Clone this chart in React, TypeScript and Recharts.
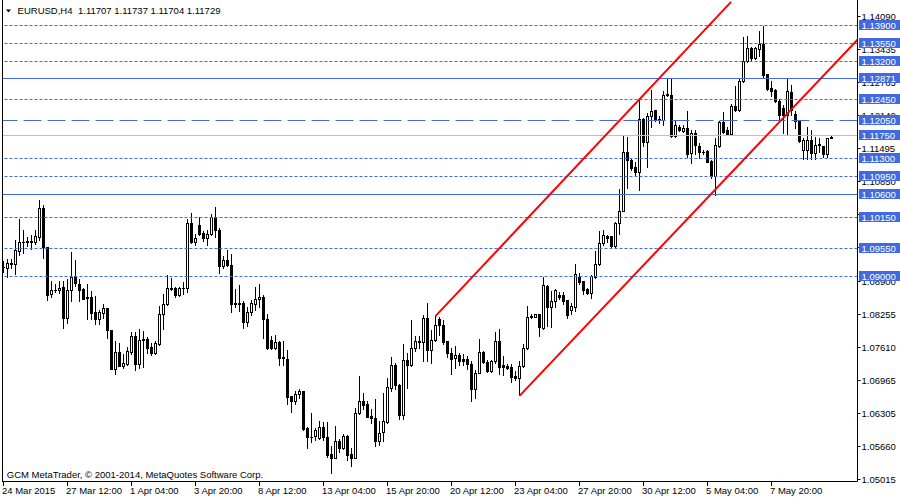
import React from 'react';
import { ComposedChart, Bar, XAxis, YAxis, ReferenceLine } from 'recharts';

const FONT = "'Liberation Sans', Arial, sans-serif";
const BLUE = '#4169E1';

// bar index of each date label on the time axis, and the labels themselves
const dateTickBars = [0, 16, 32, 48, 64, 80, 96, 112, 128, 144, 160, 176, 192];
const dateLabels = [
  '24 Mar 2015', '27 Mar 12:00', '1 Apr 04:00', '3 Apr 20:00', '8 Apr 12:00',
  '13 Apr 04:00', '15 Apr 20:00', '20 Apr 12:00', '23 Apr 04:00', '27 Apr 20:00',
  '30 Apr 12:00', '5 May 04:00', '7 May 20:00',
];

const open = [
  1.0919, 1.0916, 1.0926, 1.0924, 1.0950, 1.0967, 1.0968, 1.0970, 1.0967, 1.0977,
  1.1034, 1.0957, 1.0865, 1.0873, 1.0874, 1.0879, 1.0818, 1.0873, 1.0900, 1.0885,
  1.0875, 1.0860, 1.0860, 1.0831, 1.0817, 1.0829, 1.0837, 1.0794, 1.0718, 1.0752,
  1.0725, 1.0728, 1.0751, 1.0783, 1.0728, 1.0775, 1.0778, 1.0761, 1.0750, 1.0768,
  1.0826, 1.0845, 1.0877, 1.0877, 1.0864, 1.0877, 1.0877, 1.1004, 1.0967, 1.1001,
  1.0984, 1.0975, 1.0982, 1.1017, 1.0991, 1.0921, 1.0932, 1.0923, 1.0846, 1.0847,
  1.0848, 1.0811, 1.0830, 1.0845, 1.0855, 1.0860, 1.0816, 1.0776, 1.0760, 1.0771,
  1.0740, 1.0739, 1.0665, 1.0656, 1.0670, 1.0675, 1.0604, 1.0585, 1.0587, 1.0583,
  1.0606, 1.0586, 1.0552, 1.0545, 1.0578, 1.0563, 1.0588, 1.0552, 1.0545, 1.0632,
  1.0656, 1.0650, 1.0627, 1.0623, 1.0578, 1.0595, 1.0614, 1.0681, 1.0727, 1.0688,
  1.0629, 1.0737, 1.0727, 1.0759, 1.0774, 1.0772, 1.0818, 1.0755, 1.0776, 1.0816,
  1.0804, 1.0773, 1.0750, 1.0740, 1.0746, 1.0738, 1.0738, 1.0729, 1.0680, 1.0711,
  1.0751, 1.0732, 1.0714, 1.0734, 1.0773, 1.0727, 1.0725, 1.0722, 1.0704, 1.0700,
  1.0724, 1.0759, 1.0820, 1.0821, 1.0826, 1.0799, 1.0881, 1.0839, 1.0852, 1.0864,
  1.0864, 1.0853, 1.0834, 1.0839, 1.0898, 1.0890, 1.0876, 1.0868, 1.0899, 1.0924,
  1.0965, 1.0979, 1.0978, 1.0960, 1.1004, 1.1028, 1.1143, 1.1128, 1.1114, 1.1105,
  1.1208, 1.1162, 1.1213, 1.1225, 1.1206, 1.1206, 1.1255, 1.1255, 1.1175, 1.1193,
  1.1185, 1.1190, 1.1141, 1.1180, 1.1155, 1.1144, 1.1145, 1.1126, 1.1097, 1.1154,
  1.1201, 1.1186, 1.1179, 1.1234, 1.1226, 1.1282, 1.1321, 1.1347, 1.1328, 1.1344,
  1.1355, 1.1295, 1.1269, 1.1265, 1.1244, 1.1229, 1.1216, 1.1261, 1.1217, 1.1204,
  1.1147, 1.1147, 1.1167, 1.1141, 1.1157, 1.1154, 1.1139, 1.11707,
];

const high = [
  1.0929, 1.0934, 1.0934, 1.0971, 1.1013, 1.0991, 1.0977, 1.0980, 1.0990, 1.1050,
  1.1039, 1.0958, 1.0890, 1.0885, 1.0891, 1.0890, 1.0895, 1.0947, 1.0931, 1.0895,
  1.0878, 1.0885, 1.0871, 1.0861, 1.0835, 1.0845, 1.0838, 1.0795, 1.0774, 1.0770,
  1.0747, 1.0761, 1.0790, 1.0790, 1.0796, 1.0793, 1.0782, 1.0770, 1.0774, 1.0842,
  1.0866, 1.0903, 1.0896, 1.0879, 1.0879, 1.0888, 1.1013, 1.1024, 1.0982, 1.1016,
  1.0988, 1.0990, 1.1021, 1.1036, 1.0995, 1.0939, 1.0952, 1.0944, 1.0875, 1.0883,
  1.0852, 1.0840, 1.0853, 1.0879, 1.0885, 1.0864, 1.0827, 1.0784, 1.0786, 1.0773,
  1.0774, 1.0755, 1.0666, 1.0675, 1.0680, 1.0676, 1.0605, 1.0633, 1.0604, 1.0616,
  1.0614, 1.0614, 1.0567, 1.0607, 1.0581, 1.0591, 1.0589, 1.0563, 1.0643, 1.0704,
  1.0671, 1.0655, 1.0640, 1.0660, 1.0616, 1.0671, 1.0700, 1.0743, 1.0730, 1.0689,
  1.0767, 1.0750, 1.0814, 1.0783, 1.0784, 1.0824, 1.0847, 1.0794, 1.0822, 1.0820,
  1.0814, 1.0774, 1.0759, 1.0763, 1.0750, 1.0747, 1.0744, 1.0734, 1.0716, 1.0778,
  1.0753, 1.0737, 1.0737, 1.0791, 1.0797, 1.0744, 1.0729, 1.0729, 1.0714, 1.0734,
  1.0768, 1.0842, 1.0827, 1.0827, 1.0827, 1.0898, 1.0882, 1.0872, 1.0875, 1.0870,
  1.0870, 1.0854, 1.0848, 1.0925, 1.0907, 1.0891, 1.0877, 1.0902, 1.0949, 1.0988,
  1.0990, 1.0981, 1.0979, 1.1006, 1.1070, 1.1177, 1.1173, 1.1129, 1.1124, 1.1246,
  1.1209, 1.1219, 1.1265, 1.1226, 1.1213, 1.1262, 1.1286, 1.1288, 1.1203, 1.1196,
  1.1196, 1.1223, 1.1186, 1.1186, 1.1160, 1.1148, 1.1147, 1.1127, 1.1171, 1.1204,
  1.1221, 1.1192, 1.1237, 1.1272, 1.1286, 1.1368, 1.1370, 1.1349, 1.1349, 1.1380,
  1.1390, 1.1296, 1.1282, 1.1266, 1.1246, 1.1236, 1.1288, 1.1275, 1.1223, 1.1205,
  1.1170, 1.1193, 1.1186, 1.1173, 1.1171, 1.1155, 1.1171, 1.11737,
];

const low = [
  1.0908, 1.0898, 1.0916, 1.0904, 1.0941, 1.0945, 1.0960, 1.0954, 1.0963, 1.0971,
  1.0936, 1.0853, 1.0860, 1.0870, 1.0868, 1.0798, 1.0809, 1.0852, 1.0881, 1.0852,
  1.0855, 1.0817, 1.0816, 1.0807, 1.0807, 1.0818, 1.0780, 1.0718, 1.0709, 1.0724,
  1.0721, 1.0726, 1.0747, 1.0716, 1.0721, 1.0722, 1.0750, 1.0746, 1.0748, 1.0765,
  1.0797, 1.0844, 1.0873, 1.0860, 1.0862, 1.0865, 1.0870, 1.0965, 1.0962, 1.0980,
  1.0970, 1.0962, 1.0980, 1.0977, 1.0906, 1.0917, 1.0921, 1.0831, 1.0839, 1.0832,
  1.0799, 1.0803, 1.0824, 1.0834, 1.0839, 1.0780, 1.0758, 1.0757, 1.0757, 1.0727,
  1.0727, 1.0650, 1.0634, 1.0650, 1.0662, 1.0600, 1.0563, 1.0576, 1.0580, 1.0582,
  1.0580, 1.0547, 1.0516, 1.0544, 1.0556, 1.0562, 1.0541, 1.0528, 1.0544, 1.0631,
  1.0641, 1.0624, 1.0612, 1.0567, 1.0570, 1.0578, 1.0613, 1.0676, 1.0680, 1.0621,
  1.0621, 1.0681, 1.0724, 1.0753, 1.0760, 1.0734, 1.0735, 1.0731, 1.0773, 1.0786,
  1.0767, 1.0742, 1.0709, 1.0721, 1.0727, 1.0727, 1.0719, 1.0656, 1.0662, 1.0710,
  1.0731, 1.0713, 1.0713, 1.0731, 1.0708, 1.0706, 1.0719, 1.0694, 1.0698, 1.0667,
  1.0722, 1.0758, 1.0819, 1.0820, 1.0783, 1.0796, 1.0803, 1.0801, 1.0839, 1.0855,
  1.0845, 1.0818, 1.0826, 1.0832, 1.0885, 1.0865, 1.0865, 1.0857, 1.0897, 1.0923,
  1.0962, 1.0967, 1.0957, 1.0958, 1.0983, 1.1027, 1.1073, 1.1108, 1.1098, 1.1068,
  1.1154, 1.1114, 1.1193, 1.1203, 1.1200, 1.1196, 1.1253, 1.1172, 1.1173, 1.1185,
  1.1183, 1.1133, 1.1121, 1.1139, 1.1131, 1.1139, 1.1123, 1.1092, 1.1059, 1.1153,
  1.1180, 1.1176, 1.1177, 1.1223, 1.1224, 1.1281, 1.1320, 1.1321, 1.1326, 1.1331,
  1.1288, 1.1265, 1.1252, 1.1241, 1.1203, 1.1180, 1.1177, 1.1216, 1.1190, 1.1162,
  1.1130, 1.1130, 1.1130, 1.1130, 1.1144, 1.1134, 1.1134, 1.11704,
];

const close = [
  1.0918, 1.0926, 1.0925, 1.0952, 1.0967, 1.0968, 1.0969, 1.0967, 1.0978, 1.1034,
  1.0957, 1.0863, 1.0873, 1.0873, 1.0878, 1.0819, 1.0873, 1.0899, 1.0886, 1.0874,
  1.0856, 1.0857, 1.0829, 1.0817, 1.0830, 1.0837, 1.0794, 1.0719, 1.0751, 1.0725,
  1.0730, 1.0754, 1.0783, 1.0728, 1.0775, 1.0777, 1.0760, 1.0750, 1.0770, 1.0826,
  1.0845, 1.0877, 1.0876, 1.0864, 1.0877, 1.0878, 1.1004, 1.0967, 1.0975, 1.0983,
  1.0975, 1.0982, 1.1017, 1.0991, 1.0921, 1.0932, 1.0922, 1.0845, 1.0847, 1.0846,
  1.0811, 1.0830, 1.0847, 1.0855, 1.0860, 1.0816, 1.0759, 1.0760, 1.0771, 1.0740,
  1.0742, 1.0664, 1.0656, 1.0670, 1.0675, 1.0602, 1.0585, 1.0586, 1.0599, 1.0606,
  1.0585, 1.0551, 1.0545, 1.0578, 1.0563, 1.0588, 1.0551, 1.0545, 1.0633, 1.0656,
  1.0648, 1.0625, 1.0622, 1.0578, 1.0594, 1.0616, 1.0683, 1.0727, 1.0688, 1.0629,
  1.0737, 1.0727, 1.0759, 1.0774, 1.0772, 1.0818, 1.0755, 1.0776, 1.0804, 1.0804,
  1.0771, 1.0750, 1.0739, 1.0745, 1.0735, 1.0735, 1.0729, 1.0680, 1.0711, 1.0751,
  1.0732, 1.0714, 1.0734, 1.0773, 1.0722, 1.0722, 1.0721, 1.0703, 1.0700, 1.0724,
  1.0759, 1.0820, 1.0822, 1.0826, 1.0801, 1.0883, 1.0839, 1.0852, 1.0873, 1.0860,
  1.0852, 1.0825, 1.0842, 1.0904, 1.0888, 1.0873, 1.0868, 1.0901, 1.0924, 1.0965,
  1.0980, 1.0975, 1.0960, 1.1005, 1.1027, 1.1143, 1.1128, 1.1111, 1.1105, 1.1208,
  1.1162, 1.1214, 1.1223, 1.1206, 1.1208, 1.1255, 1.1257, 1.1175, 1.1196, 1.1186,
  1.1191, 1.1139, 1.1180, 1.1157, 1.1144, 1.1143, 1.1124, 1.1097, 1.1157, 1.1201,
  1.1183, 1.1179, 1.1234, 1.1225, 1.1282, 1.1322, 1.1346, 1.1328, 1.1346, 1.1355,
  1.1293, 1.1267, 1.1263, 1.1244, 1.1215, 1.1215, 1.1262, 1.1226, 1.1204, 1.1164,
  1.1167, 1.1167, 1.1141, 1.1157, 1.1158, 1.1139, 1.1170, 1.11729,
];

// price scale ticks and the highlighted horizontal levels
const priceTicks = [
  1.1409, 1.13435, 1.12785, 1.1214, 1.11495, 1.1085, 1.10205, 1.0956,
  1.089, 1.08255, 1.0761, 1.06965, 1.06305, 1.0566, 1.05015,
];
const levelPrices = [
  1.139, 1.1355, 1.132, 1.12871, 1.1245, 1.1205, 1.1175, 1.113, 1.1095, 1.106, 1.1015, 1.0955, 1.09,
];
const levelKinds = [
  'dot', 'dot', 'dot', 'solid', 'dot', 'dash', 'gray', 'dot', 'dot', 'solid', 'dot', 'dot', 'dot',
];

// channel lines (bar index, price)
const upperChannel = [{ x: 108, y: 1.0822 }, { x: 181.9, y: 1.1437 }];
const lowerChannel = [{ x: 129, y: 1.0666 }, { x: 213.5, y: 1.1363 }];

const X_DOMAIN: [number, number] = [-0.25, 213.5];
const Y_DOMAIN: [number, number] = [1.04984, 1.14407];

const rows = open.map((o, i) => ({ i, o, h: high[i], l: low[i], c: close[i] }));
const levelSet = new Set(levelPrices);

const kindStyle: Record<string, { color: string; dash?: string }> = {
  dot: { color: BLUE, dash: '3 2' },
  solid: { color: BLUE },
  dash: { color: BLUE, dash: '18 6' },
  gray: { color: '#C0C0C0' },
};

function Candle(props: any) {
  const { x, y, width, height, payload } = props;
  if (!payload || !isFinite(x) || !isFinite(y)) return null;
  const { o, h, l, c } = payload;
  const span = h - l;
  const k = span > 0 ? height / span : 0;
  const yOf = (v: number) => y + (h - v) * k;
  const col = Math.floor(x + width / 2);
  const top = Math.round(yOf(h));
  const bot = Math.round(yOf(l));
  const bTop = Math.round(yOf(Math.max(o, c)));
  const bBot = Math.round(yOf(Math.min(o, c)));
  const bull = c > o;
  return (
    <g>
      <rect x={col} y={top} width={1} height={Math.max(1, bot - top + 1)} fill="#000" />
      <rect x={col - 1} y={bTop} width={3} height={Math.max(1, bBot - bTop + 1)} fill="#000" />
      {bull && bBot - bTop > 1 && (
        <rect x={col} y={bTop + 1} width={1} height={bBot - bTop - 1} fill="#fff" />
      )}
    </g>
  );
}

function YTick(props: any) {
  const { x, y, payload } = props;
  const v = payload.value as number;
  const row = Math.floor(y);
  if (levelSet.has(v)) {
    return (
      <g>
        <rect x={x + 1.5} y={row - 5} width={42} height={10} fill={BLUE} />
        <text x={x + 4} y={row + 3.5} fill="#fff" fontSize={9.5} fontFamily={FONT}>
          {v.toFixed(5)}
        </text>
      </g>
    );
  }
  return (
    <g>
      <rect x={x} y={row} width={3} height={1} fill="#000" />
      <text x={x + 4} y={row + 3.5} fill="#000" fontSize={9.5} fontFamily={FONT}>
        {v.toFixed(5)}
      </text>
    </g>
  );
}

function XTick(props: any) {
  const { x, y, payload } = props;
  const k = dateTickBars.indexOf(payload.value);
  const col = Math.floor(x);
  return (
    <g>
      <rect x={col} y={Math.ceil(y)} width={1} height={4} fill="#000" />
      <text x={x - 1.5} y={y + 12.5} fill="#000" fontSize={9.5} fontFamily={FONT}>
        {k >= 0 ? dateLabels[k] : ''}
      </text>
    </g>
  );
}

function makeLevelShape(kind: string) {
  const st = kindStyle[kind];
  return (p: any) => {
    const yy = Math.floor(p.y1) + 0.5;
    return (
      <line
        x1={p.x1}
        x2={p.x2}
        y1={yy}
        y2={yy}
        stroke={st.color}
        strokeWidth={1}
        strokeDasharray={st.dash}
      />
    );
  };
}

export default function App() {
  return (
    <div
      style={{
        position: 'absolute',
        left: 0,
        top: 0,
        width: 900,
        height: 500,
        background: '#fff',
        overflow: 'hidden',
      }}
    >
      <ComposedChart
        width={900}
        height={500}
        data={rows}
        margin={{ top: 0, right: 0, bottom: 0, left: 2.5 }}
      >
        <XAxis
          dataKey="i"
          type="number"
          domain={X_DOMAIN}
          allowDataOverflow
          ticks={dateTickBars}
          interval={0}
          tick={(p: any) => <XTick {...p} />}
          tickLine={false}
          tickSize={0}
          tickMargin={0}
          height={18.5}
          axisLine={{ stroke: '#000' }}
        />
        <YAxis
          orientation="right"
          type="number"
          domain={Y_DOMAIN}
          allowDataOverflow
          ticks={[...priceTicks, ...levelPrices]}
          interval={0}
          tick={(p: any) => <YTick {...p} />}
          tickLine={false}
          tickSize={0}
          tickMargin={0}
          width={42.5}
          axisLine={{ stroke: '#000' }}
        />
        {levelPrices.map((p, idx) => (
          <ReferenceLine
            key={'lv' + idx}
            y={p}
            ifOverflow="visible"
            shape={makeLevelShape(levelKinds[idx])}
          />
        ))}
        <Bar
          dataKey={(d: any) => [d.l, d.h]}
          barSize={3}
          isAnimationActive={false}
          shape={(p: any) => <Candle {...p} />}
        />
        <ReferenceLine
          segment={upperChannel}
          stroke="#ff0000"
          strokeWidth={2}
          ifOverflow="visible"
        />
        <ReferenceLine
          segment={lowerChannel}
          stroke="#ff0000"
          strokeWidth={2}
          ifOverflow="visible"
        />
      </ComposedChart>
      <svg
        width={900}
        height={500}
        style={{ position: 'absolute', left: 0, top: 0, pointerEvents: 'none' }}
      >
        <line x1={2.5} x2={2.5} y1={0} y2={482} stroke="#000" strokeWidth={1} />
        <polygon points="6,9.5 11,9.5 8.5,12.5" fill="#000" />
        <text x={17.6} y={14} fontSize={9.5} fontFamily={FONT} fill="#000">
          EURUSD,H4
        </text>
        <text x={78} y={14} fontSize={9.5} fontFamily={FONT} fill="#000">
          1.11707 1.11737 1.11704 1.11729
        </text>
        <text x={6.8} y={477.5} fontSize={9.5} fontFamily={FONT} fill="#000">
          GCM MetaTrader, © 2001-2014, MetaQuotes Software Corp.
        </text>
      </svg>
    </div>
  );
}
